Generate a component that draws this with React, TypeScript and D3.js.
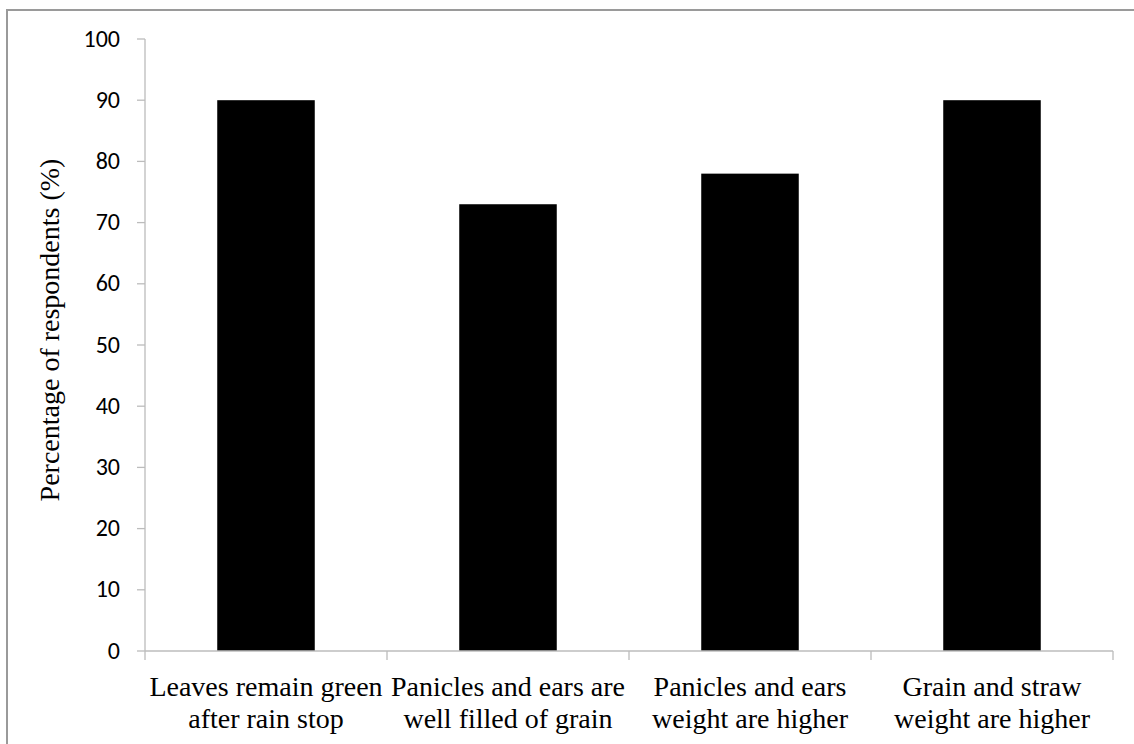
import React from "react";
import * as d3 from "d3";

const categories: string[][] = [
  ["Leaves remain green", "after rain stop"],
  ["Panicles and ears are", "well filled of grain"],
  ["Panicles and ears", "weight are higher"],
  ["Grain and straw", "weight are higher"],
];
const values: number[] = [90, 73, 78, 90];
const yTicks: number[] = [0, 10, 20, 30, 40, 50, 60, 70, 80, 90, 100];
const yTitle = "Percentage of respondents (%)";

const W = 1134;
const H = 744;
const left = 145;
const right = 1113;
const top = 39;
const bottom = 651;

export default function App() {
  const keys = categories.map((_, i) => String(i));
  const x = d3
    .scaleBand<string>()
    .domain(keys)
    .range([left, right])
    .paddingInner(0.597)
    .paddingOuter(0.2985);
  const y = d3.scaleLinear().domain([0, 100]).range([bottom, top]);
  const step = x.step();
  const axisColor = "#bcbcbc";
  const serifFont = "Liberation Serif";
  const sansFont = "Carlito";

  return (
    <svg width={W} height={H} style={{ position: "absolute", left: 0, top: 0 }}>
      <rect x={0} y={0} width={W} height={H} fill="#fff" />
      <path d={`M7,${H + 5} L7,10 L${W + 5},10`} fill="none" stroke="#9a9a9a" strokeWidth={2} />

      <line x1={left} x2={left} y1={y(100)} y2={y(0)} stroke={axisColor} strokeWidth={1.3} />
      {yTicks.map((t) => (
        <g key={t}>
          <line x1={left - 8} x2={left} y1={y(t)} y2={y(t)} stroke={axisColor} strokeWidth={1.3} />
          <text
            x={left - 25}
            y={y(t)}
            dy="0.32em"
            textAnchor="end"
            fontFamily={sansFont}
            fontSize={24}
            fill="#000"
          >
            {t}
          </text>
        </g>
      ))}

      {values.map((v, i) => (
        <rect
          key={i}
          x={x(String(i))}
          y={y(v)}
          width={x.bandwidth()}
          height={y(0) - y(v)}
          fill="#000"
        />
      ))}

      <line x1={left} x2={right} y1={y(0)} y2={y(0)} stroke={axisColor} strokeWidth={1.3} />
      {d3.range(categories.length + 1).map((i) => (
        <line
          key={i}
          x1={left + i * step}
          x2={left + i * step}
          y1={y(0)}
          y2={y(0) + 9}
          stroke={axisColor}
          strokeWidth={1.3}
        />
      ))}
      {categories.map((lines, i) => {
        const cx = (x(String(i)) as number) + x.bandwidth() / 2;
        return lines.map((l, j) => (
          <text
            key={`${i}-${j}`}
            x={cx}
            y={696 + j * 32}
            textAnchor="middle"
            fontFamily={serifFont}
            fontSize={28}
            fill="#000"
          >
            {l}
          </text>
        ));
      })}

      <text
        transform={`translate(59,330) rotate(-90)`}
        textAnchor="middle"
        fontFamily={serifFont}
        fontSize={28}
        fill="#000"
      >
        {yTitle}
      </text>
    </svg>
  );
}
